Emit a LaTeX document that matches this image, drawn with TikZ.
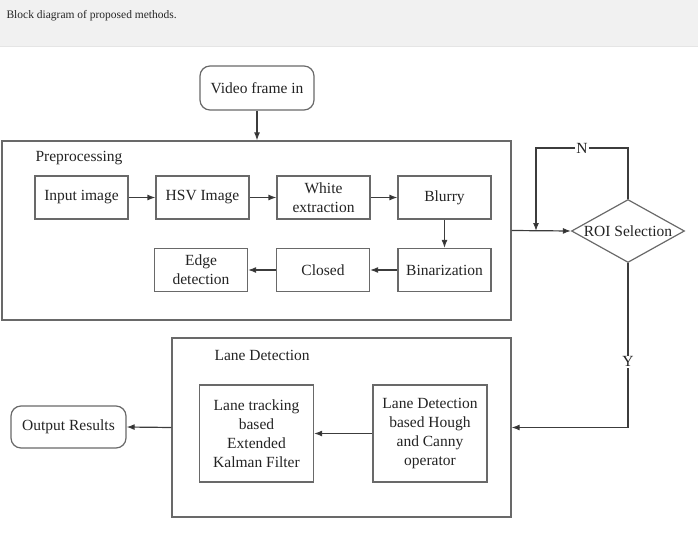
\documentclass[tikz,border=0pt]{standalone}
\usepackage{fontspec}
\setmainfont{Liberation Serif}
\usetikzlibrary{arrows.meta, positioning, shapes.geometric}
\definecolor{linegray}{RGB}{105,105,105}
\definecolor{arrgray}{RGB}{60,60,60}
\definecolor{textgray}{RGB}{35,35,35}
\definecolor{bandgray}{RGB}{241,241,241}

\begin{document}
\begin{tikzpicture}[
    x=1pt, y=-1pt,
    font=\fontsize{15.5}{19}\selectfont,
    every node/.style={text=textgray},
    box/.style={draw=linegray, line width=1.2pt, fill=white,
                minimum width=93pt, minimum height=43pt,
                align=center, inner sep=2pt},
    tallbox/.style={box, minimum width=114pt, minimum height=97pt},
    group/.style={draw=linegray, line width=1.2pt, inner sep=0pt},
    term/.style={draw=linegray, line width=1.2pt, rounded corners=10pt,
                 align=center, inner sep=2pt},
    decision/.style={draw=linegray, line width=1.2pt, diamond,
                     minimum width=113pt, minimum height=63pt, inner sep=0pt},
    arr/.style={-{Latex[length=8pt,width=6pt,fill=black!85]}, draw=arrgray, line width=1.2pt}
  ]

  \useasboundingbox (0,0) rectangle (698,540);
  \fill[bandgray] (0,0) rectangle (698,46);
  \draw[black!10] (0,46) -- (698,46);
  \node[anchor=west, font=\fontsize{11.5}{13}\selectfont, text=black!85] (cap) at (3,16)
    {Block diagram of proposed methods.};

  \node[term, minimum width=114pt, minimum height=44pt] (video) at (257,88) {Video frame in};

  \node[group, minimum width=509pt, minimum height=179pt] (pre) at (256.5,230.5) {};
  \node[anchor=west] (prelbl) at (32,158) {Preprocessing};

  \node[box] (inimg)  at (81.5,197.5)  {Input image};
  \node[box] (hsv)    at (202.5,197.5) {HSV Image};
  \node[box] (white)  at (323.5,197.5) {White\\extraction};
  \node[box] (blur)   at (444.5,197.5) {Blurry};
  \node[box] (bin)    at (444.5,270)   {Binarization};
  \node[box] (closed) at (323,270)     {Closed};
  \node[box] (edge)   at (201,270)     {Edge\\detection};

  \node[decision, label={center:ROI Selection}] (roi) at (628,231) {};
  \coordinate (ntop) at (536,148);
  \coordinate (njoin) at (536,231);

  \node[group, minimum width=339pt, minimum height=179pt] (lane) at (341.5,427.5) {};
  \node[anchor=west] (lanelbl) at (211,355) {Lane Detection};

  \node[tallbox] (track) at (256.5,433.5) {Lane tracking\\based\\Extended\\Kalman Filter};
  \node[tallbox] (hough) at (430,433.5) {Lane Detection\\based Hough\\and Canny\\operator};

  \node[term, minimum width=115pt, minimum height=42pt] (out) at (68.5,427) {Output Results};

  \draw[arr] (video.south) -- (video.south |- pre.north);
  \draw[arr] (inimg) -- (hsv);
  \draw[arr] (hsv) -- (white);
  \draw[arr] (white) -- (blur);
  \draw[arr] (blur) -- (bin);
  \draw[arr] (bin) -- (closed);
  \draw[arr] (closed) -- (edge);
  \draw[arr] (pre.east) -- (roi.west);
  \draw[arr] (roi.north) |- node[pos=0.75, fill=white, inner sep=1pt] {N} (ntop) -- (njoin);
  \draw[arr] (roi.south) |- node[pos=0.3, fill=white, inner sep=1pt] {Y} (lane.east);
  \draw[arr] (hough) -- (track);
  \draw[arr] (lane.west) -- (out.east);

\end{tikzpicture}
\end{document}
